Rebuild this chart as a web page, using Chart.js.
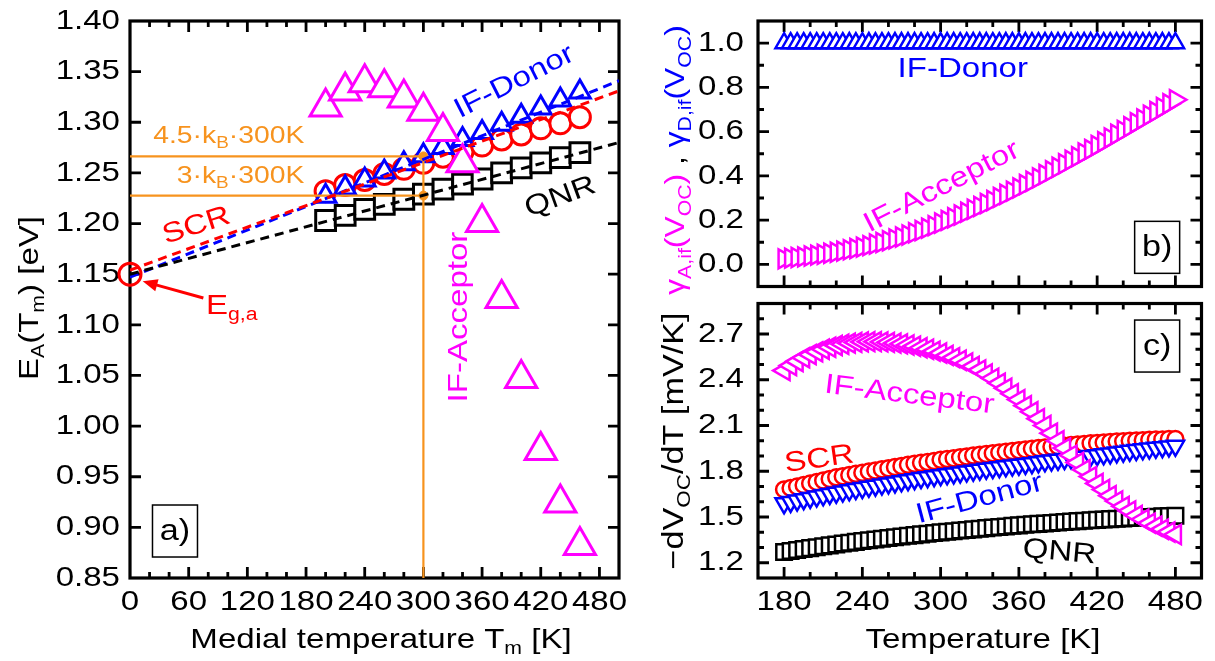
<!DOCTYPE html>
<html>
<head>
<meta charset="utf-8">
<script src="https://cdn.jsdelivr.net/npm/chart.js@4.4.1/dist/chart.umd.min.js"></script>
<style>
  body { margin: 0; background: #fff; }
  #wrap { position: relative; width: 1215px; height: 661px; overflow: hidden; }
  canvas { position: absolute; }
</style>
</head>
<body>
<div id="wrap">
  <canvas id="ca" width="640" height="661" style="left:0;top:0"></canvas>
  <canvas id="cb" width="575" height="300" style="left:640px;top:0"></canvas>
  <canvas id="cc" width="575" height="371" style="left:640px;top:290px"></canvas>
</div>
<script>
// ---- panel a: activation energy vs medial temperature ----
var tA = [200, 220, 240, 260, 280, 300, 320, 340, 360, 380, 400, 420, 440, 460]
var qnrA = [1.203, 1.208, 1.214, 1.219, 1.224, 1.229, 1.234, 1.239, 1.244, 1.250, 1.255, 1.260, 1.265, 1.270]
var scrA = [1.232, 1.238, 1.243, 1.249, 1.254, 1.260, 1.266, 1.271, 1.277, 1.283, 1.288, 1.294, 1.299, 1.305]
var donorA = [1.227, 1.235, 1.243, 1.251, 1.259, 1.267, 1.275, 1.283, 1.290, 1.298, 1.306, 1.314, 1.322, 1.330]
var acceptorA = [1.315, 1.331, 1.339, 1.334, 1.324, 1.311, 1.291, 1.260, 1.201, 1.126, 1.047, 0.976, 0.924, 0.882]

// linear extrapolations to T = 0
var fitT = [0, 500]
var fitQNR = [1.150, 1.280]
var fitSCR = [1.154, 1.331]
var fitDonor = [1.147, 1.341]

// band gap point and the n*kB*300K guide lines
var egT = [0]
var egE = [1.150]
var guideT = [0, 300]
var kT45 = [1.2663, 1.2663]
var kT3 = [1.2276, 1.2276]
var vertT = [300, 300]
var vertE = [0.85, 1.2663]
var dotT = [300, 300]
var dotE = [1.2663, 1.2276]

var aXTicks = [0, 60, 120, 180, 240, 300, 360, 420, 480]
var aYTicks = [0.85, 0.90, 0.95, 1.00, 1.05, 1.10, 1.15, 1.20, 1.25, 1.30, 1.35, 1.40]

// ---- panels b and c: temperature sweep ----
var tB = [180, 185, 190, 195, 200, 205, 210, 215, 220, 225, 230, 235, 240, 245, 250, 255, 260, 265, 270, 275,
  280, 285, 290, 295, 300, 305, 310, 315, 320, 325, 330, 335, 340, 345, 350, 355, 360, 365, 370, 375,
  380, 385, 390, 395, 400, 405, 410, 415, 420, 425, 430, 435, 440, 445, 450, 455, 460, 465, 470, 475, 480]

var gammaDonor = [1, 1, 1, 1, 1, 1, 1, 1, 1, 1, 1, 1, 1, 1, 1, 1, 1, 1, 1, 1,
  1, 1, 1, 1, 1, 1, 1, 1, 1, 1, 1, 1, 1, 1, 1, 1, 1, 1, 1, 1,
  1, 1, 1, 1, 1, 1, 1, 1, 1, 1, 1, 1, 1, 1, 1, 1, 1, 1, 1, 1, 1]
var gammaAcceptor = [0.025, 0.028, 0.031, 0.034, 0.038, 0.042, 0.046, 0.050, 0.055, 0.060, 0.066, 0.072, 0.078, 0.085, 0.092, 0.099, 0.107, 0.115, 0.124, 0.133,
  0.143, 0.153, 0.164, 0.175, 0.187, 0.199, 0.211, 0.223, 0.236, 0.249, 0.262, 0.275, 0.289, 0.303, 0.317, 0.331, 0.346, 0.361, 0.376, 0.391,
  0.407, 0.423, 0.439, 0.455, 0.471, 0.487, 0.504, 0.520, 0.537, 0.554, 0.571, 0.588, 0.605, 0.622, 0.640, 0.657, 0.674, 0.691, 0.709, 0.726, 0.744]

var dvAcceptor = [2.460, 2.493, 2.520, 2.544, 2.565, 2.583, 2.600, 2.613, 2.625, 2.633, 2.640, 2.645, 2.648, 2.650, 2.650, 2.648, 2.645, 2.640, 2.635, 2.628,
  2.620, 2.610, 2.600, 2.588, 2.575, 2.560, 2.545, 2.528, 2.510, 2.488, 2.465, 2.438, 2.410, 2.378, 2.345, 2.308, 2.270, 2.230, 2.190, 2.145,
  2.100, 2.050, 2.000, 1.952, 1.905, 1.857, 1.810, 1.765, 1.720, 1.680, 1.640, 1.605, 1.570, 1.540, 1.510, 1.485, 1.460, 1.440, 1.420, 1.402, 1.385]
var dvSCR = [1.680, 1.690, 1.700, 1.710, 1.720, 1.730, 1.740, 1.750, 1.760, 1.768, 1.775, 1.783, 1.790, 1.798, 1.805, 1.813, 1.820, 1.828, 1.835, 1.843,
  1.850, 1.855, 1.860, 1.868, 1.875, 1.880, 1.885, 1.891, 1.897, 1.903, 1.908, 1.913, 1.918, 1.923, 1.928, 1.933, 1.938, 1.943, 1.947, 1.952,
  1.956, 1.960, 1.964, 1.968, 1.972, 1.976, 1.979, 1.983, 1.986, 1.989, 1.992, 1.995, 1.997, 2.000, 2.002, 2.004, 2.006, 2.008, 2.009, 2.011, 2.012]
var dvDonor = [1.590, 1.599, 1.608, 1.617, 1.625, 1.634, 1.642, 1.651, 1.659, 1.667, 1.675, 1.683, 1.690, 1.698, 1.705, 1.713, 1.720, 1.727, 1.734, 1.741,
  1.748, 1.755, 1.761, 1.768, 1.774, 1.780, 1.786, 1.792, 1.798, 1.804, 1.810, 1.816, 1.821, 1.827, 1.832, 1.837, 1.842, 1.848, 1.853, 1.859,
  1.865, 1.870, 1.875, 1.880, 1.885, 1.890, 1.895, 1.900, 1.905, 1.911, 1.917, 1.923, 1.928, 1.934, 1.939, 1.944, 1.949, 1.954, 1.958, 1.963, 1.967]
var dvQNR = [1.270, 1.277, 1.283, 1.290, 1.296, 1.302, 1.308, 1.314, 1.320, 1.326, 1.331, 1.337, 1.342, 1.347, 1.352, 1.357, 1.362, 1.367, 1.372, 1.377,
  1.381, 1.386, 1.390, 1.395, 1.399, 1.403, 1.407, 1.411, 1.415, 1.419, 1.423, 1.427, 1.431, 1.435, 1.438, 1.442, 1.445, 1.449, 1.452, 1.455,
  1.458, 1.461, 1.464, 1.467, 1.470, 1.473, 1.476, 1.479, 1.481, 1.484, 1.486, 1.489, 1.491, 1.494, 1.496, 1.498, 1.500, 1.502, 1.504, 1.506, 1.508]

var bcXTicks = [180, 240, 300, 360, 420, 480]
var bYTicks = [0.0, 0.2, 0.4, 0.6, 0.8, 1.0]
var cYTicks = [1.2, 1.5, 1.8, 2.1, 2.4, 2.7]

var FONT = '"Liberation Sans", Arial, sans-serif'
var SX = 1.18   // text in this figure runs a bit wide
var ORANGE = '#F7931E', MAG = '#FF00FF', BLUE = '#0000FF', RED = '#FF0000', BLACK = '#000000'

function pts(xs, ys) {
  return xs.map(function (x, i) { return { x: x, y: ys[i] } })
}

function markers(label, xs, ys, color, style, r, lw, rot, order) {
  return {
    label: label, data: pts(xs, ys), showLine: false,
    pointStyle: style, pointRadius: r, pointBorderWidth: lw,
    pointBorderColor: color, pointBackgroundColor: '#ffffff',
    pointRotation: rot || 0, order: order
  }
}

function curve(label, xs, ys, color, width, dash, order) {
  return {
    label: label, data: pts(xs, ys), showLine: true, borderColor: color,
    borderWidth: width, borderDash: dash || [], pointRadius: 0, order: order
  }
}

// "E_{A}(T_{m})" -> pieces with subscripts
function rich(str, color) {
  var parts = []
  str.split(/(_\{[^}]*\})/).forEach(function (s) {
    if (!s) return
    if (s.indexOf('_{') === 0) parts.push({ t: s.slice(2, -1), sub: true, c: color })
    else parts.push({ t: s, c: color })
  })
  return parts
}

function drawRich(ctx, parts, x, y, size, rot, align) {
  var subSize = Math.round(size * 0.65)
  var w = 0
  parts.forEach(function (p) {
    ctx.font = (p.sub ? subSize : size) + 'px ' + FONT
    w += ctx.measureText(p.t).width
  })
  ctx.save()
  ctx.translate(x, y)
  ctx.rotate((rot || 0) * Math.PI / 180)
  ctx.scale(SX, 1)
  ctx.textAlign = 'left'
  ctx.textBaseline = 'middle'
  var cx = align === 'right' ? -w : -w / 2
  parts.forEach(function (p) {
    ctx.font = (p.sub ? subSize : size) + 'px ' + FONT
    ctx.fillStyle = p.c || BLACK
    ctx.fillText(p.t, cx, p.sub ? size * 0.32 : 0)
    cx += ctx.measureText(p.t).width
  })
  ctx.restore()
}

function steps(min, max, step) {
  var out = []
  for (var k = Math.ceil(min / step - 1e-9); k * step <= max + 1e-9; k++) {
    var v = Math.round(k * step * 1000) / 1000
    if (v > min + 1e-9 && v < max - 1e-9) out.push(v)
  }
  return out
}

// frame with inward ticks on all four sides, tick labels, and notes over the data
function framePlugin(cfg) {
  return {
    id: 'frame',
    beforeDatasetsDraw: function (chart) {
      var ctx = chart.ctx, a = chart.chartArea, sx = chart.scales.x, sy = chart.scales.y
      var isMajor = function (v, list) { return list.some(function (m) { return Math.abs(m - v) < 1e-6 }) }
      ctx.save()
      ctx.strokeStyle = BLACK
      ctx.lineWidth = 2.8
      ctx.beginPath()
      steps(sx.min, sx.max, cfg.xMinor).forEach(function (v) {
        var p = sx.getPixelForValue(v), len = isMajor(v, cfg.xMajor) ? 11 : 6
        ctx.moveTo(p, a.bottom); ctx.lineTo(p, a.bottom - len)
        ctx.moveTo(p, a.top); ctx.lineTo(p, a.top + len)
      })
      steps(sy.min, sy.max, cfg.yMinor).forEach(function (v) {
        var p = sy.getPixelForValue(v), len = isMajor(v, cfg.yMajor) ? 11 : 6
        ctx.moveTo(a.left, p); ctx.lineTo(a.left + len, p)
        ctx.moveTo(a.right, p); ctx.lineTo(a.right - len, p)
      })
      ctx.stroke()
      ctx.lineWidth = 3.2
      ctx.strokeRect(a.left, a.top, a.right - a.left, a.bottom - a.top)
      ctx.restore()

      if (cfg.xFmt) {
        cfg.xMajor.forEach(function (v) {
          drawRich(ctx, [{ t: cfg.xFmt(v) }], sx.getPixelForValue(v), a.bottom + 24, 28, 0)
        })
      }
      cfg.yMajor.forEach(function (v) {
        drawRich(ctx, [{ t: cfg.yFmt(v) }], a.left - cfg.yPad, sy.getPixelForValue(v), 28, 0, 'right')
      })
    },
    afterDatasetsDraw: function (chart) {
      var ctx = chart.ctx, sx = chart.scales.x, sy = chart.scales.y
      ;(cfg.arrows || []).forEach(function (ar) {
        var x1 = sx.getPixelForValue(ar.x1), y1 = sy.getPixelForValue(ar.y1)
        var x2 = sx.getPixelForValue(ar.x2), y2 = sy.getPixelForValue(ar.y2)
        var ang = Math.atan2(y2 - y1, x2 - x1), hl = 16
        ctx.save()
        ctx.strokeStyle = ar.color; ctx.fillStyle = ar.color; ctx.lineWidth = 3
        ctx.beginPath()
        ctx.moveTo(x1, y1)
        ctx.lineTo(x2 - Math.cos(ang) * hl * 0.8, y2 - Math.sin(ang) * hl * 0.8)
        ctx.stroke()
        ctx.beginPath()
        ctx.moveTo(x2, y2)
        ctx.lineTo(x2 - hl * Math.cos(ang - 0.4), y2 - hl * Math.sin(ang - 0.4))
        ctx.lineTo(x2 - hl * Math.cos(ang + 0.4), y2 - hl * Math.sin(ang + 0.4))
        ctx.closePath()
        ctx.fill()
        ctx.restore()
      })
      ;(cfg.notes || []).forEach(function (n) {
        drawRich(ctx, n.parts, sx.getPixelForValue(n.x), sy.getPixelForValue(n.y), n.size || 28, n.rot)
      })
      ;(cfg.titles || []).forEach(function (t) {
        drawRich(ctx, t.parts, t.x, t.y, t.size || 28, t.rot)
      })
      if (cfg.box) {
        var bx = sx.getPixelForValue(cfg.box.x), by = sy.getPixelForValue(cfg.box.y)
        ctx.save()
        ctx.strokeStyle = BLACK; ctx.lineWidth = 1.5
        ctx.strokeRect(bx - 22.5, by - 26, 45, 52)
        ctx.restore()
        drawRich(ctx, [{ t: cfg.box.text }], bx, by + 1, 29, 0)
      }
    }
  }
}

// axes keep a fixed size so the plot frames line up; labels come from the frame plugin
function axis(min, max, fitFn) {
  return {
    type: 'linear', min: min, max: max,
    grid: { display: false, drawTicks: false },
    border: { display: false },
    afterFit: fitFn,
    ticks: { display: false }
  }
}

var common = {
  responsive: false, animation: false, events: [],
  plugins: { legend: { display: false }, tooltip: { enabled: false } }
}

var fmtInt = function (v) { return String(v) }

// panel a
new Chart(document.getElementById('ca'), {
  type: 'scatter',
  data: {
    datasets: [
      curve('fit QNR', fitT, fitQNR, BLACK, 3, [9, 6], 0),
      curve('fit SCR', fitT, fitSCR, RED, 3, [9, 6], 0),
      curve('fit IF-Donor', fitT, fitDonor, BLUE, 3, [9, 6], 0),
      Object.assign(markers('Eg,a', egT, egE, RED, 'circle', 11, 3, 0, -1), { pointBackgroundColor: 'rgba(0,0,0,0)', clip: false }),
      curve('4.5 kT', guideT, kT45, ORANGE, 2.2, [], 1),
      curve('3 kT', guideT, kT3, ORANGE, 2.2, [], 1),
      curve('300 K', vertT, vertE, ORANGE, 2.2, [], 1),
      Object.assign(markers('dots', dotT, dotE, ORANGE, 'circle', 4.5, 1, 0, 0), { pointBackgroundColor: ORANGE }),
      markers('IF-Acceptor', tA, acceptorA, MAG, 'triangle', 18, 3, 0, 2),
      markers('IF-Donor', tA, donorA, BLUE, 'triangle', 12, 3, 0, 3),
      markers('SCR', tA, scrA, RED, 'circle', 10.5, 3, 0, 4),
      markers('QNR', tA, qnrA, BLACK, 'rect', 14, 3, 0, 5)
    ]
  },
  options: Object.assign({}, common, {
    layout: { padding: { top: 21, right: 12, left: 0, bottom: 0 } },
    scales: {
      x: axis(0, 500, function (s) { s.height = 83 }),
      y: axis(0.85, 1.40, function (s) { s.width = 130 })
    }
  }),
  plugins: [framePlugin({
    xMajor: aXTicks, xMinor: 20, yMajor: aYTicks, yMinor: 0.05,
    xFmt: fmtInt, yFmt: function (v) { return v.toFixed(2) }, yPad: 10,
    notes: [
      { parts: rich('4.5·k_{B}·300K', ORANGE), x: 101, y: 1.2864, size: 24 },
      { parts: rich('3·k_{B}·300K', ORANGE), x: 113, y: 1.247, size: 24 },
      { parts: rich('SCR', RED), x: 68, y: 1.1976, rot: -18 },
      { parts: rich('E_{g,a}', RED), x: 104, y: 1.1186 },
      { parts: rich('IF-Donor', BLUE), x: 393, y: 1.3398, rot: -27 },
      { parts: rich('QNR', BLACK), x: 440, y: 1.226, rot: -20 },
      { parts: rich('IF-Acceptor', MAG), x: 337, y: 1.1077, rot: -90 }
    ],
    arrows: [{ x1: 75, y1: 1.1265, x2: 13, y2: 1.1430, color: RED }],
    titles: [
      { parts: rich('E_{A}(T_{m}) [eV]'), x: 30, y: 298, rot: -90 },
      { parts: rich('Medial temperature T_{m} [K]'), x: 381, y: 640 }
    ],
    box: { text: 'a)', x: 46, y: 0.8964 }
  })]
})

// panel b
new Chart(document.getElementById('cb'), {
  type: 'scatter',
  data: {
    datasets: [
      markers('IF-Acceptor', tB, gammaAcceptor, MAG, 'triangle', 11, 2.5, 90, 1),
      markers('IF-Donor', tB, gammaDonor, BLUE, 'triangle', 10, 2.5, 0, 2)
    ]
  },
  options: Object.assign({}, common, {
    layout: { padding: { top: 21, right: 10, left: 0, bottom: 0 } },
    scales: {
      x: axis(160, 500, function (s) { s.height = 1 }),
      y: axis(-0.1, 1.1, function (s) { s.width = 118 })
    }
  }),
  plugins: [framePlugin({
    xMajor: bcXTicks, xMinor: 20, yMajor: bYTicks, yMinor: 0.1,
    yFmt: function (v) { return v.toFixed(1) }, yPad: 14,
    notes: [
      { parts: rich('IF-Donor', BLUE), x: 317, y: 0.884 },
      { parts: rich('IF-Acceptor', MAG), x: 301, y: 0.349, rot: -27 }
    ],
    titles: [
      { parts: rich('γ_{A,if}(V_{OC})', MAG).concat([{ t: ' , ', c: BLACK }], rich('γ_{D,if}(V_{OC})', BLUE)), x: 37, y: 160, rot: -90, size: 27 }
    ],
    box: { text: 'b)', x: 466, y: 0.077 }
  })]
})

// panel c
new Chart(document.getElementById('cc'), {
  type: 'scatter',
  data: {
    datasets: [
      markers('IF-Acceptor', tB, dvAcceptor, MAG, 'triangle', 11, 2.5, -90, 1),
      markers('IF-Donor', tB, dvDonor, BLUE, 'triangle', 10, 2.5, 180, 2),
      markers('SCR', tB, dvSCR, RED, 'circle', 8, 2.5, 0, 3),
      markers('QNR', tB, dvQNR, BLACK, 'rect', 11, 2.5, 0, 4)
    ]
  },
  options: Object.assign({}, common, {
    layout: { padding: { top: 10, right: 10, left: 0, bottom: 0 } },
    scales: {
      x: axis(160, 500, function (s) { s.height = 83 }),
      y: axis(1.1, 2.9, function (s) { s.width = 118 })
    }
  }),
  plugins: [framePlugin({
    xMajor: bcXTicks, xMinor: 20, yMajor: cYTicks, yMinor: 0.1,
    xFmt: fmtInt, yFmt: function (v) { return v.toFixed(1) }, yPad: 14,
    notes: [
      { parts: rich('IF-Acceptor', MAG), x: 276, y: 2.298, rot: 7 },
      { parts: rich('SCR', RED), x: 207, y: 1.877, rot: -8 },
      { parts: rich('IF-Donor', BLUE), x: 330, y: 1.618, rot: -15 },
      { parts: rich('QNR', BLACK), x: 391, y: 1.268, rot: 5 }
    ],
    titles: [
      { parts: rich('−dV_{OC}/dT [mV/K]'), x: 35, y: 151, rot: -90, size: 29 },
      { parts: rich('Temperature [K]'), x: 343, y: 350 }
    ],
    box: { text: 'c)', x: 466, y: 2.621 }
  })]
})
</script>
</body>
</html>
